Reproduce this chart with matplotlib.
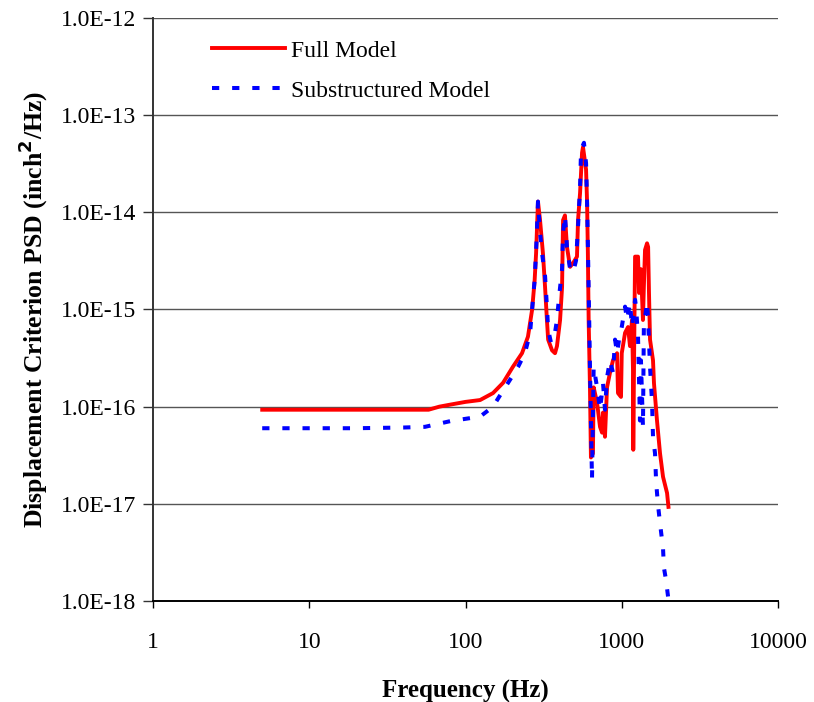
import matplotlib
matplotlib.use("Agg")
import matplotlib.pyplot as plt
from matplotlib.ticker import FixedLocator, FixedFormatter, NullLocator
import numpy as np

# ---- data ----
full_freq = [5, 10, 20, 40, 58, 68, 80, 100, 124, 150, 174, 201, 230, 251, 267,
             277, 283, 291, 300, 313, 323, 332, 338, 358, 374, 385, 403, 415,
             421, 433, 446, 467, 488, 517, 525, 541, 557, 565, 591, 600, 607,
             614, 626, 635, 654, 661, 695, 726, 748, 759, 781, 805, 841, 879,
             933, 946, 989, 1000, 1050, 1097, 1129, 1163, 1180, 1185, 1200,
             1217, 1271, 1290, 1327, 1367, 1385, 1409, 1452, 1475, 1494, 1517,
             1585, 1608, 1681, 1758, 1837, 1950, 1990]
full_psd = [9.3e-17, 9.3e-17, 9.3e-17, 9.3e-17, 9.3e-17, 1.0e-16, 1.05e-16,
            1.12e-16, 1.17e-16, 1.38e-16, 1.76e-16, 2.57e-16, 3.55e-16,
            5.25e-16, 1.0e-15, 2.0e-15, 3.8e-15, 1.29e-14, 8.3e-15, 3.8e-15,
            1.7e-15, 7.8e-16, 4.9e-16, 3.8e-16, 3.55e-16, 4.2e-16, 7.8e-16,
            1.7e-15, 8.3e-15, 9.3e-15, 4.4e-15, 2.75e-15, 3.0e-15, 3.5e-15,
            8.3e-15, 1.58e-14, 4.1e-14, 4.7e-14, 2.75e-14, 1.26e-14, 3.8e-15,
            7.8e-16, 1.58e-16, 3.0e-17, 3.3e-17, 1.58e-16, 1.1e-16, 6.2e-17,
            5.4e-17, 8.7e-17, 4.9e-17, 1.58e-16, 2.24e-16, 3.0e-16, 3.55e-16,
            1.38e-16, 1.26e-16, 3.55e-16, 5.75e-16, 6.6e-16, 4.2e-16, 7.8e-16,
            2.4e-16, 3.6e-17, 3.55e-16, 3.5e-15, 3.5e-15, 1.48e-15, 2.6e-15,
            7.8e-16, 1.7e-15, 4.1e-15, 4.8e-15, 4.4e-15, 1.48e-15, 4.9e-16,
            3.0e-16, 1.74e-16, 7.2e-17, 3.3e-17, 1.9e-17, 1.29e-17, 9.3e-18]

sub_freq = [5, 10, 20, 40, 55, 80, 124, 150, 164, 193, 217, 240, 259, 270, 277,
            281, 285, 291, 300, 309, 323, 332, 338, 352, 368, 385, 397, 415,
            421, 433, 446, 467, 488, 510, 525, 541, 549, 573, 591, 600, 614,
            626, 635, 645, 661, 695, 726, 759, 781, 805, 841, 879, 906, 933,
            961, 1000, 1050, 1081, 1129, 1163, 1217, 1234, 1271, 1308, 1327,
            1367, 1385, 1452, 1475, 1517, 1563, 1585, 1633, 1660, 1706, 1758,
            1837, 1862, 1918, 1980, 2000]
sub_psd = [6.0e-17, 6.0e-17, 6.0e-17, 6.1e-17, 6.2e-17, 7.1e-17, 7.9e-17,
           1.0e-16, 1.26e-16, 1.9e-16, 2.57e-16, 3.55e-16, 5.75e-16, 1.26e-15,
           2.0e-15, 3.2e-15, 5.2e-15, 1.29e-14, 6.2e-15, 3.8e-15, 2.2e-15,
           1.07e-15, 6.2e-16, 4.6e-16, 4.9e-16, 7.8e-16, 1.35e-15, 2.6e-15,
           6.2e-15, 9.3e-15, 4.4e-15, 2.6e-15, 2.4e-15, 3.2e-15, 7.1e-15,
           1.82e-14, 4.4e-14, 5.2e-14, 3.2e-14, 1.26e-14, 1.7e-15, 2.57e-16,
           7.2e-17, 1.78e-17, 2.57e-16, 1.58e-16, 9.3e-17, 1.74e-16, 9.3e-17,
           2.0e-16, 3.0e-16, 2.24e-16, 4.9e-16, 3.55e-16, 4.9e-16, 6.6e-16,
           1.07e-15, 7.8e-16, 1.17e-15, 6.6e-16, 1.26e-15, 1.07e-15, 5.25e-16,
           7.2e-17, 3.0e-16, 6.2e-17, 6.6e-16, 1.2e-15, 7.8e-16, 2.57e-16,
           1.1e-16, 4.9e-17, 3.3e-17, 1.66e-17, 9.8e-18, 6.3e-18, 3.5e-18,
           2.2e-18, 1.66e-18, 1.1e-18, 1.0e-18]

x_ticks = [1, 10, 100, 1000, 10000]
x_tick_labels = ["1", "10", "100", "1000", "10000"]
y_ticks = [1e-18, 1e-17, 1e-16, 1e-15, 1e-14, 1e-13, 1e-12]
y_tick_labels = ["1.0E-18", "1.0E-17", "1.0E-16", "1.0E-15", "1.0E-14",
                 "1.0E-13", "1.0E-12"]

series_labels = ["Full Model", "Substructured Model"]

# ---- figure ----
plt.rcParams['font.family'] = ['Liberation Serif', 'DejaVu Serif']
fig = plt.figure(figsize=(8.14, 7.02), dpi=100)
ax = fig.add_axes([153 / 814, 101 / 702, 625 / 814, 583 / 702])

ax.plot(full_freq, full_psd, color='#ff0000', lw=2.8, solid_joinstyle='round',
        label=series_labels[0], zorder=3)
ax.plot(sub_freq, sub_psd, color='#0000ff', lw=2.9, linestyle=(0, (1.8, 3.2)),
        label=series_labels[1], zorder=4)

ax.set_xscale('log')
ax.set_yscale('log')
ax.set_xlim(1, 10000)
ax.set_ylim(1e-18, 1e-12)

ax.xaxis.set_major_locator(FixedLocator(x_ticks))
ax.xaxis.set_major_formatter(FixedFormatter(x_tick_labels))
ax.xaxis.set_minor_locator(NullLocator())
ax.yaxis.set_major_locator(FixedLocator(y_ticks))
ax.yaxis.set_major_formatter(FixedFormatter(y_tick_labels))
ax.yaxis.set_minor_locator(NullLocator())

ax.grid(True, axis='y', color='#555555', lw=1.0, zorder=0)
ax.set_axisbelow(True)

for s in ['top', 'right']:
    ax.spines[s].set_visible(False)
ax.spines['left'].set_color('#333333')
ax.spines['left'].set_linewidth(1.4)
ax.spines['bottom'].set_color('#000000')
ax.spines['bottom'].set_linewidth(1.4)

ax.tick_params(axis='y', direction='out', length=7, width=1.0, pad=5,
               labelsize=17, color='#333333')
ax.tick_params(axis='x', direction='out', length=5, width=1.0, pad=17,
               labelsize=17)

ax.set_xlabel('Frequency (Hz)', fontsize=18, fontweight='bold', labelpad=20)
ax.set_ylabel('Displacement Criterion PSD (inch$^{\\mathbf{2}}$/Hz)',
              fontsize=18.5, fontweight='bold', labelpad=8)

leg = ax.legend(loc='upper left', bbox_to_anchor=(0.094, 0.962), frameon=False,
                fontsize=17, handlelength=3.1, handletextpad=0.25,
                labelspacing=0.78, borderpad=0, borderaxespad=0)

fig.savefig('out.png', dpi=100)
